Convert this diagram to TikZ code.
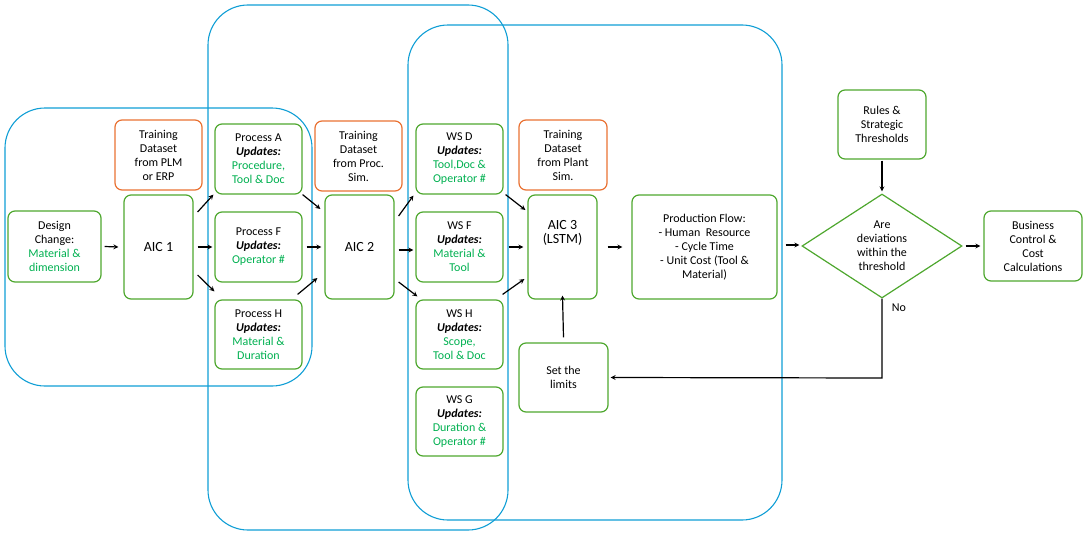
\documentclass[tikz,border=0pt]{standalone}
\usepackage{fontspec}
\setmainfont{Carlito}
\usetikzlibrary{shapes.geometric,arrows,positioning,calc}
\definecolor{boxgreen}{HTML}{4EA72E}
\definecolor{txtgreen}{HTML}{00B050}
\definecolor{boxorange}{HTML}{E97132}
\definecolor{zoneblue}{HTML}{0F9ED5}
\tikzset
{
    stepbox/.style  = {rectangle, rounded corners=7pt, draw=boxgreen, line width=1.2pt, align=center, font=\fontsize{12}{14}\selectfont, inner sep=2pt},
    databox/.style  = {rectangle, rounded corners=7pt, draw=boxorange, line width=1.2pt, align=center, font=\fontsize{12}{14}\selectfont, inner sep=2pt},
    zone/.style     = {draw=zoneblue, line width=1.1pt, rounded corners=40pt},
    decision/.style = {diamond, draw=boxgreen, line width=1.2pt, align=center, inner sep=0pt, font=\fontsize{12}{14}\selectfont},
    arrow/.style    = {line width=1.2pt, ->, >=stealth},
}
\newcommand\upd{\textbf{\textit{Updates:}}}
\newcommand\grn[1]{\textcolor{txtgreen}{#1}}
\begin{document}
\begin{tikzpicture}[x=1pt, y=-1pt]
   \useasboundingbox (0,0) rectangle (1088,538);
   % blue groups
   \draw[zone] (5,108) rectangle (312,386);
   \draw[zone] (208,5) rectangle (508,530);
   \draw[zone] (408,25) rectangle (782,520);

   \node (dc)  [stepbox, minimum width=93pt, minimum height=71pt] at (54.5,246.5) {Design\\Change:\\\grn{Material \&}\\\grn{dimension}};
   \node (t1)  [databox, minimum width=87pt, minimum height=70pt] at (158.5,155) {Training\\Dataset\\from PLM\\or ERP};
   \node (a1)  [stepbox, minimum width=69pt, minimum height=104pt] at (158.5,247) {\fontsize{14}{16}\selectfont AIC 1};
   \node (pa)  [stepbox, minimum width=87pt, minimum height=70pt] at (258.5,159) {Process A\\\upd\\\grn{Procedure,}\\\grn{Tool \& Doc}};
   \node (pf)  [stepbox, minimum width=87pt, minimum height=70pt] at (258.5,247) {Process F\\\upd\\\grn{Operator \#}};
   \node (ph)  [stepbox, minimum width=87pt, minimum height=69pt] at (258.5,334.5) {Process H\\\upd\\\grn{Material \&}\\\grn{Duration}};
   \node (t2)  [databox, minimum width=87pt, minimum height=70pt] at (358.5,156) {Training\\Dataset\\from Proc.\\Sim.};
   \node (a2)  [stepbox, minimum width=69pt, minimum height=104pt] at (359.5,247) {\fontsize{14}{16}\selectfont AIC 2};
   \node (wd)  [stepbox, minimum width=87pt, minimum height=70pt] at (459.5,159) {WS D\\\upd\\\grn{Tool,Doc \&}\\\grn{Operator \#}};
   \node (wf)  [stepbox, minimum width=87pt, minimum height=70pt] at (459.5,247) {WS F\\\upd\\\grn{Material \&}\\\grn{Tool}};
   \node (wh)  [stepbox, minimum width=87pt, minimum height=69pt] at (459.5,334.5) {WS H\\\upd\\\grn{Scope,}\\\grn{Tool \& Doc}};
   \node (wg)  [stepbox, minimum width=87pt, minimum height=69pt] at (459.5,421.5) {WS G\\\upd\\\grn{Duration \&}\\\grn{Operator \#}};
   \node (t3)  [databox, minimum width=88pt, minimum height=70pt] at (563,155) {Training\\Dataset\\from Plant\\Sim.};
   \node (a3)  [stepbox, minimum width=69pt, minimum height=104pt, text depth=30pt] at (562.5,247) {\fontsize{14}{16}\selectfont AIC 3\\\fontsize{14}{16}\selectfont(LSTM)};
   \node (sl)  [stepbox, minimum width=89pt, minimum height=69pt] at (563.5,377.5) {Set the\\limits};
   \node (pr)  [stepbox, minimum width=145pt, minimum height=104pt] at (704.5,247) {Production Flow:\\- Human \ Resource\\- Cycle Time\\- Unit Cost (Tool \&\\Material)};
   \node (ru)  [stepbox, minimum width=88pt, minimum height=69pt] at (882,124.5) {Rules \&\\Strategic\\Thresholds};
   \node (dv)  [decision, minimum width=160pt, minimum height=104pt] at (882,246) {Are\\deviations\\within the\\threshold};
   \node (bc)  [stepbox, minimum width=98pt, minimum height=70pt] at (1033,246) {Business\\Control \&\\Cost\\Calculations};
   \node (no)  [font=\fontsize{12}{14}\selectfont] at (899,308) {No};
   \coordinate (turn) at (882,378);

   \draw[arrow] ($(dc.east)+(3,0)$) -- ($(a1.west)+(-5,0)$);
   \draw[arrow] ($(a1.east)+(4,-35)$) -- ($(pa.south west)+(-1,0)$);
   \draw[arrow] ($(a1.east)+(4,0)$) -- ($(pf.west)+(-2,0)$);
   \draw[arrow] ($(a1.east)+(4,28)$) -- ($(ph.north west)+(0,-8)$);
   \draw[arrow] (pa.south east) -- ($(a2.west)+(-4,-38)$);
   \draw[arrow] ($(pf.east)+(4,0)$) -- ($(a2.west)+(-3,0)$);
   \draw[arrow] ($(ph.north east)+(-5,-5)$) -- ($(a2.west)+(-7,31)$);
   \draw[arrow] ($(a2.east)+(4,-31)$) -- ($(wd.south west)+(-2,1)$);
   \draw[arrow] ($(a2.east)+(4,3)$) -- ($(wf.west)+(-2,3)$);
   \draw[arrow] ($(a2.east)+(4,35)$) -- ($(wh.north west)+(2,-3)$);
   \draw[arrow] ($(wd.south east)+(2,0)$) -- ($(a3.west)+(-2,-37)$);
   \draw[arrow] ($(wf.east)+(5,0)$) -- ($(a3.west)+(-4,0)$);
   \draw[arrow] ($(wh.north east)+(-1,-5)$) -- ($(a3.west)+(-3,32)$);
   \draw[arrow] ($(a3.east)+(10,0)$) -- ($(pr.west)+(-9,0)$);
   \draw[arrow] ($(pr.east)+(8,-2)$) -- ($(dv.west)+(-2,-1)$);
   \draw[arrow] ($(ru.south)+(0,1)$) -- ($(dv.north)+(0,-2)$);
   \draw[arrow] ($(dv.east)+(3,0)$) -- ($(bc.west)+(-3,0)$);
   \draw[arrow] ($(sl.north)+(0,-5)$) -- ($(a3.south)+(0,-4)$);
   \draw[arrow] (dv.south) -- (turn) -- ($(sl.east)+(2,0)$);
\end{tikzpicture}
\end{document}
